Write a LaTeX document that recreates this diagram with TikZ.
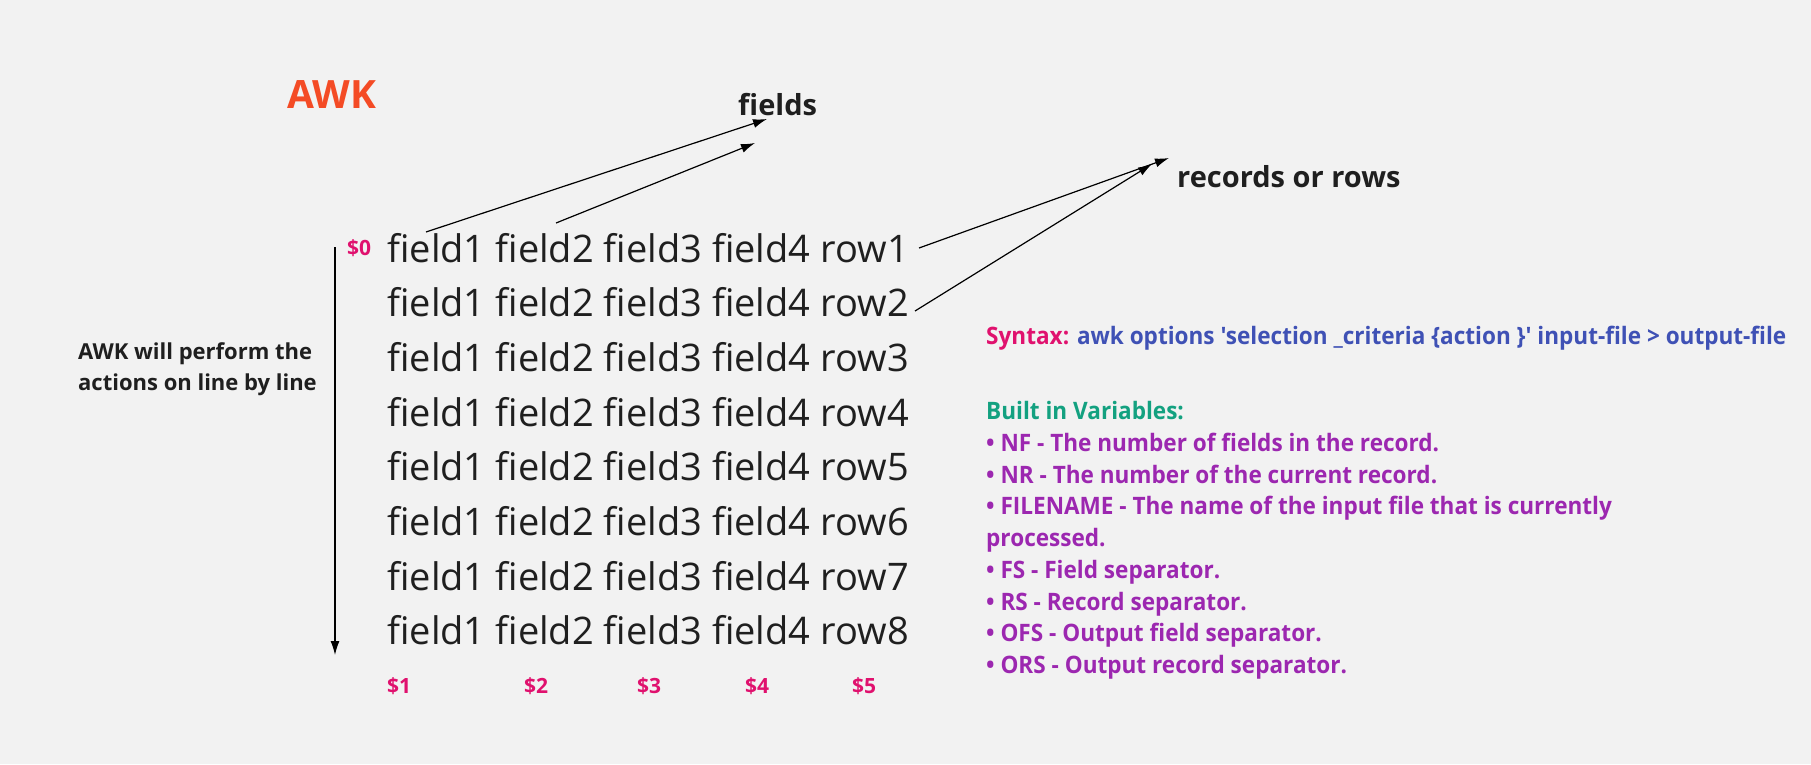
\documentclass[tikz,border=0pt]{standalone}
\usepackage{fontspec}
\setmainfont{Open Sans}
\newfontfamily\condfont{Open Sans}[FakeStretch=0.94]
\usetikzlibrary{arrows.meta}
\definecolor{bgc}{HTML}{F2F2F2}
\definecolor{ink}{HTML}{1F1F1F}
\definecolor{awkred}{HTML}{F44B25}
\definecolor{mag}{HTML}{E0116E}
\definecolor{synblue}{HTML}{3F51B5}
\definecolor{vgreen}{HTML}{13A180}
\definecolor{vpurple}{HTML}{9C27B0}
\tikzset{
  rowtxt/.style={anchor=base west, inner sep=0pt, text=ink, font=\fontsize{38}{42}\selectfont},
  dollar/.style={anchor=base west, inner sep=0pt, text=mag, font=\bfseries\fontsize{21}{24}\selectfont},
  headtxt/.style={anchor=base west, inner sep=0pt, text=ink, font=\bfseries\fontsize{29}{32}\selectfont},
  notetxt/.style={anchor=base west, inner sep=0pt, text=ink, font=\bfseries\fontsize{22}{24}\selectfont},
  info/.style={anchor=base west, inner sep=0pt, text=vpurple, font=\condfont\bfseries\fontsize{24}{27}\selectfont},
  arr/.style={draw=black, line width=1.2pt, -{Latex[length=14pt,width=9pt]}}
}
\begin{document}
\begin{tikzpicture}[x=1pt,y=-1pt]
\fill[bgc] (0,0) rectangle (1811,764);
\useasboundingbox (0,0) rectangle (1811,764);

\node[anchor=base west, inner sep=0pt, text=awkred, font=\bfseries\fontsize{39}{42}\selectfont] (awk) at (287,108) {AWK};
\node[headtxt] (fields) at (738,115) {fields};
\node[headtxt] (records) at (1177,187) {records or rows};

\node[dollar] (d0) at (347,255) {\$0};
\node[rowtxt] (r1) at (387,262.0) {field1 field2 field3 field4 row1};
\node[rowtxt] (r2) at (387,316.7) {field1 field2 field3 field4 row2};
\node[rowtxt] (r3) at (387,371.4) {field1 field2 field3 field4 row3};
\node[rowtxt] (r4) at (387,426.1) {field1 field2 field3 field4 row4};
\node[rowtxt] (r5) at (387,480.8) {field1 field2 field3 field4 row5};
\node[rowtxt] (r6) at (387,535.5) {field1 field2 field3 field4 row6};
\node[rowtxt] (r7) at (387,590.2) {field1 field2 field3 field4 row7};
\node[rowtxt] (r8) at (387,644.9) {field1 field2 field3 field4 row8};

\node[dollar] (d1) at (387,693) {\$1};
\node[dollar] (d2) at (524,693) {\$2};
\node[dollar] (d3) at (637,693) {\$3};
\node[dollar] (d4) at (745,693) {\$4};
\node[dollar] (d5) at (852,693) {\$5};

\node[notetxt] (note1) at (78,359) {AWK will perform the};
\node[notetxt] (note2) at (78,390) {actions on line by line};

\node[info, text=mag] (syn) at (986,344) {Syntax: \textcolor{synblue}{awk options 'selection \_criteria \{action \}' input-file > output-file}};
\node[info, text=vgreen] (built) at (986,419) {Built in Variables:};
\node[info] (v1) at (986,451) {• NF - The number of fields in the record.};
\node[info] (v2) at (986,483) {• NR - The number of the current record.};
\node[info] (v3) at (986,514) {• FILENAME - The name of the input file that is currently};
\node[info] (v3b) at (986,546) {processed.};
\node[info] (v4) at (986,578) {• FS - Field separator.};
\node[info] (v5) at (986,610) {• RS - Record separator.};
\node[info] (v6) at (986,641) {• OFS - Output field separator.};
\node[info] (v7) at (986,673) {• ORS - Output record separator.};

\coordinate (fa1) at (426,232);
\coordinate (fa2) at (556,223);
\coordinate (ft1) at (767,119);
\coordinate (ft2) at (755,143);
\coordinate (ra1) at (919,248);
\coordinate (ra2) at (915,311);
\coordinate (rt1) at (1169,158);
\coordinate (rt2) at (1152,164);
\coordinate (vs) at (335,247);
\coordinate (ve) at (335,655);

\draw[arr] (fa1) -- (ft1);
\draw[arr] (fa2) -- (ft2);
\draw[arr] (ra1) -- (rt1);
\draw[arr] (ra2) -- (rt2);
\draw[arr] (vs) -- (ve);
\end{tikzpicture}
\end{document}
